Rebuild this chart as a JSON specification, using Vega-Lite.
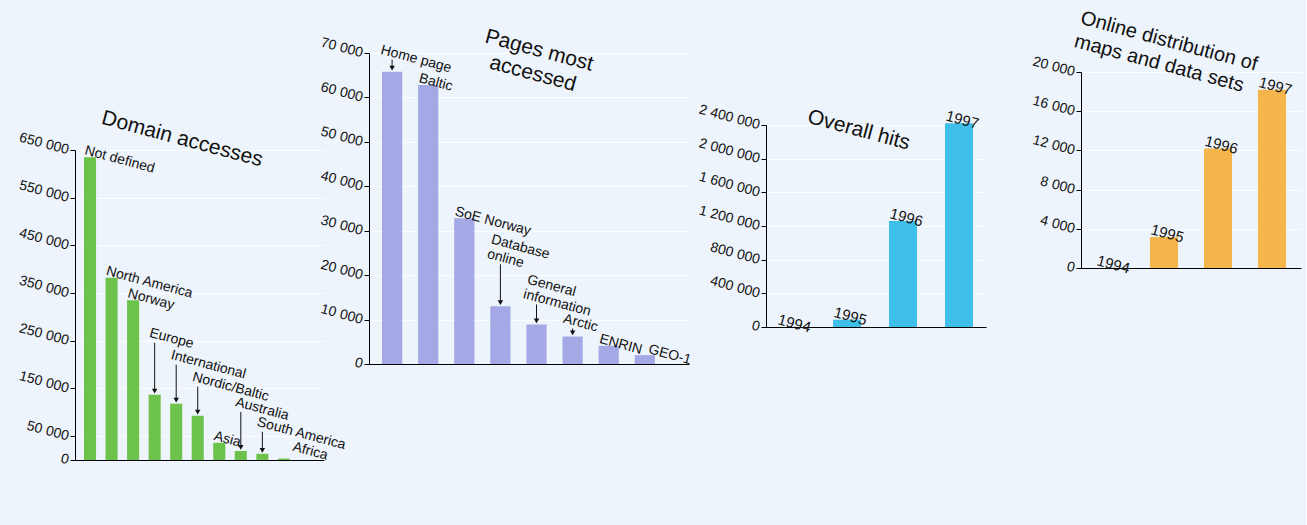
{
  "$schema": "https://vega.github.io/schema/vega-lite/v6.json",
  "background": "#eef4fb",
  "padding": {"left": 5, "top": 0, "right": 5, "bottom": 60},
  "spacing": -100,
  "config": {
    "font": "Liberation Sans",
    "view": {"stroke": null},
    "locale": {"number": {"decimal": ".", "thousands": " ", "grouping": [3], "currency": ["", ""]}},
    "axisX": {"labels": false, "ticks": false, "grid": false, "domainColor": "#000000", "domainWidth": 1, "titleColor": "transparent", "titleFontSize": 8, "titleBaseline": "top", "titleAlign": "left"},
    "axisY": {"domainColor": "#000000", "tickColor": "#000000", "tickSize": 5, "labelFontSize": 14, "labelColor": "#111111", "labelAngle": 15, "labelAlign": "right", "labelBaseline": "middle", "labelPadding": 2, "labelOverlap": false, "grid": true, "gridColor": "#ffffff", "gridOpacity": 0.8, "titleFontSize": 21, "titleFontWeight": "normal", "titleColor": "#111111", "titleAngle": 15, "titleAlign": "left", "titleBaseline": "alphabetic"}
  },
  "datasets": {
    "domains": [
      {"domain": "Not defined", "accesses": 635000},
      {"domain": "North America", "accesses": 382000},
      {"domain": "Norway", "accesses": 335000},
      {"domain": "Europe", "accesses": 137000},
      {"domain": "International", "accesses": 118000},
      {"domain": "Nordic/Baltic", "accesses": 93000},
      {"domain": "Asia", "accesses": 36000},
      {"domain": "Australia", "accesses": 19000},
      {"domain": "South America", "accesses": 13000},
      {"domain": "Africa", "accesses": 3000}
    ],
    "pages": [
      {"page": "Home page", "accesses": 65800},
      {"page": "Baltic", "accesses": 62800},
      {"page": "SoE Norway", "accesses": 32800},
      {"page": "Database online", "accesses": 13000},
      {"page": "General information", "accesses": 8900},
      {"page": "Arctic", "accesses": 6200},
      {"page": "ENRIN", "accesses": 4100},
      {"page": "GEO-1", "accesses": 2000}
    ],
    "hits": [
      {"year": "1994", "hits": 0},
      {"year": "1995", "hits": 87000},
      {"year": "1996", "hits": 1260000},
      {"year": "1997", "hits": 2420000}
    ],
    "maps": [
      {"year": "1994", "downloads": 0},
      {"year": "1995", "downloads": 3160},
      {"year": "1996", "downloads": 12200},
      {"year": "1997", "downloads": 18200}
    ],
    "blank": [{}]
  },
  "hconcat": [
    {
      "spacing": 0,
      "vconcat": [
        {"height": 106, "width": 1, "data": {"name": "blank"}, "mark": {"type": "point", "opacity": 0}, "encoding": {}},
        {
          "width": 249,
          "height": 310,
          "data": {"name": "domains"},
          "encoding": {
            "x": {"field": "domain", "type": "nominal", "sort": null,
                  "scale": {"paddingInner": 0.44, "paddingOuter": 1, "align": 0.209},
                  "axis": {"title": " ", "titleX": -70, "titleY": -300}},
            "y": {"field": "accesses", "type": "quantitative",
                  "scale": {"domain": [0, 650000], "nice": false},
                  "axis": {"values": [0, 50000, 150000, 250000, 350000, 450000, 550000, 650000], "format": ",d",
                           "title": "Domain accesses", "titleX": 25, "titleY": -27}}
          },
          "layer": [
            {"mark": {"type": "bar", "color": "#6cc24a"}},
            {"transform": [{"filter": {"field": "domain", "oneOf": ["Not defined", "North America", "Norway", "Asia"]}}],
             "mark": {"type": "text", "align": "left", "baseline": "alphabetic", "angle": 15, "fontSize": 14, "color": "#111111", "xOffset": -6, "yOffset": -3},
             "encoding": {"text": {"field": "domain", "type": "nominal"}}},
            {"transform": [{"filter": {"field": "domain", "equal": "Africa"}}],
             "mark": {"type": "text", "align": "left", "baseline": "alphabetic", "angle": 15, "fontSize": 14, "color": "#111111", "xOffset": 8, "yOffset": -8},
             "encoding": {"text": {"field": "domain", "type": "nominal"}}},
            {"transform": [{"filter": {"field": "domain", "equal": "Europe"}}],
             "layer": [
               {"mark": {"type": "text", "align": "left", "baseline": "alphabetic", "angle": 15, "fontSize": 14, "color": "#111111", "xOffset": -6, "yOffset": -58},
                "encoding": {"text": {"field": "domain", "type": "nominal"}}},
               {"mark": {"type": "rule", "color": "#111111", "strokeWidth": 1, "yOffset": -52, "y2Offset": -3},
                "encoding": {"y2": {"field": "accesses"}}}
             ]},
            {"transform": [{"filter": {"field": "domain", "oneOf": ["International", "Australia"]}}],
             "layer": [
               {"mark": {"type": "text", "align": "left", "baseline": "alphabetic", "angle": 15, "fontSize": 14, "color": "#111111", "xOffset": -6, "yOffset": -45},
                "encoding": {"text": {"field": "domain", "type": "nominal"}}},
               {"mark": {"type": "rule", "color": "#111111", "strokeWidth": 1, "yOffset": -39, "y2Offset": -3},
                "encoding": {"y2": {"field": "accesses"}}}
             ]},
            {"transform": [{"filter": {"field": "domain", "equal": "Nordic/Baltic"}}],
             "layer": [
               {"mark": {"type": "text", "align": "left", "baseline": "alphabetic", "angle": 15, "fontSize": 14, "color": "#111111", "xOffset": -6, "yOffset": -35},
                "encoding": {"text": {"field": "domain", "type": "nominal"}}},
               {"mark": {"type": "rule", "color": "#111111", "strokeWidth": 1, "yOffset": -29, "y2Offset": -3},
                "encoding": {"y2": {"field": "accesses"}}}
             ]},
            {"transform": [{"filter": {"field": "domain", "equal": "South America"}}],
             "layer": [
               {"mark": {"type": "text", "align": "left", "baseline": "alphabetic", "angle": 15, "fontSize": 14, "color": "#111111", "xOffset": -6, "yOffset": -28},
                "encoding": {"text": {"field": "domain", "type": "nominal"}}},
               {"mark": {"type": "rule", "color": "#111111", "strokeWidth": 1, "yOffset": -22, "y2Offset": -3},
                "encoding": {"y2": {"field": "accesses"}}}
             ]},
            {"transform": [{"filter": {"field": "domain", "oneOf": ["Europe", "International", "Nordic/Baltic", "Australia", "South America"]}}],
             "mark": {"type": "point", "shape": "triangle-down", "filled": true, "color": "#111111", "opacity": 1, "size": 30, "yOffset": -3.5}}
          ]
        }
      ]
    },
    {
      "spacing": 0,
      "vconcat": [
        {"height": 25, "width": 1, "data": {"name": "blank"}, "mark": {"type": "point", "opacity": 0}, "encoding": {}},
        {
          "width": 320,
          "height": 311,
          "data": {"name": "pages"},
          "encoding": {
            "x": {"field": "page", "type": "nominal", "sort": null,
                  "scale": {"paddingInner": 0.44, "paddingOuter": 0.652, "align": 0.276},
                  "axis": {"title": " ", "titleX": -121, "titleY": -300}},
            "y": {"field": "accesses", "type": "quantitative",
                  "scale": {"domain": [0, 70000], "nice": false},
                  "axis": {"values": [0, 10000, 20000, 30000, 40000, 50000, 60000, 70000], "format": ",d",
                           "title": ["Pages most", "accessed"], "titleAlign": "center", "titleLineHeight": 24, "titleX": 168, "titleY": 3}}
          },
          "layer": [
            {"mark": {"type": "bar", "color": "#a4a9e6"}},
            {"transform": [{"filter": {"field": "page", "oneOf": ["Baltic", "SoE Norway", "ENRIN"]}}],
             "mark": {"type": "text", "align": "left", "baseline": "alphabetic", "angle": 15, "fontSize": 14, "color": "#111111", "xOffset": -10, "yOffset": -3},
             "encoding": {"text": {"field": "page", "type": "nominal"}}},
            {"transform": [{"filter": {"field": "page", "equal": "GEO-1"}}],
             "mark": {"type": "text", "align": "left", "baseline": "alphabetic", "angle": 15, "fontSize": 14, "color": "#111111", "xOffset": 3, "yOffset": -2},
             "encoding": {"text": {"field": "page", "type": "nominal"}}},
            {"transform": [{"filter": {"field": "page", "equal": "Home page"}}],
             "layer": [
               {"mark": {"type": "text", "align": "left", "baseline": "alphabetic", "angle": 15, "fontSize": 14, "color": "#111111", "xOffset": -12, "yOffset": -18},
                "encoding": {"text": {"field": "page", "type": "nominal"}}},
               {"mark": {"type": "rule", "color": "#111111", "strokeWidth": 1, "yOffset": -12, "y2Offset": -3},
                "encoding": {"y2": {"field": "accesses"}}}
             ]},
            {"transform": [{"filter": {"field": "page", "equal": "Database online"}}],
             "layer": [
               {"mark": {"type": "text", "align": "left", "baseline": "alphabetic", "lineBreak": " ", "lineHeight": 15, "angle": 15, "fontSize": 14, "color": "#111111", "xOffset": -10, "yOffset": -63},
                "encoding": {"text": {"field": "page", "type": "nominal"}}},
               {"mark": {"type": "rule", "color": "#111111", "strokeWidth": 1, "yOffset": -42, "y2Offset": -3},
                "encoding": {"y2": {"field": "accesses"}}}
             ]},
            {"transform": [{"filter": {"field": "page", "equal": "General information"}}],
             "layer": [
               {"mark": {"type": "text", "align": "left", "baseline": "alphabetic", "lineBreak": " ", "lineHeight": 15, "angle": 15, "fontSize": 14, "color": "#111111", "xOffset": -10, "yOffset": -41},
                "encoding": {"text": {"field": "page", "type": "nominal"}}},
               {"mark": {"type": "rule", "color": "#111111", "strokeWidth": 1, "yOffset": -20, "y2Offset": -3},
                "encoding": {"y2": {"field": "accesses"}}}
             ]},
            {"transform": [{"filter": {"field": "page", "equal": "Arctic"}}],
             "layer": [
               {"mark": {"type": "text", "align": "left", "baseline": "alphabetic", "angle": 15, "fontSize": 14, "color": "#111111", "xOffset": -10, "yOffset": -14},
                "encoding": {"text": {"field": "page", "type": "nominal"}}},
               {"mark": {"type": "rule", "color": "#111111", "strokeWidth": 1, "yOffset": -8, "y2Offset": -3},
                "encoding": {"y2": {"field": "accesses"}}}
             ]},
            {"transform": [{"filter": {"field": "page", "oneOf": ["Home page", "Database online", "General information", "Arctic"]}}],
             "mark": {"type": "point", "shape": "triangle-down", "filled": true, "color": "#111111", "opacity": 1, "size": 30, "yOffset": -3.5}}
          ]
        }
      ]
    },
    {
      "spacing": 0,
      "vconcat": [
        {"height": 102, "width": 1, "data": {"name": "blank"}, "mark": {"type": "point", "opacity": 0}, "encoding": {}},
        {
          "width": 220,
          "height": 202,
          "data": {"name": "hits"},
          "encoding": {
            "x": {"field": "year", "type": "nominal", "sort": null,
                  "scale": {"paddingInner": 0.5, "paddingOuter": 0.214, "align": 0.458},
                  "axis": {"title": " ", "titleX": -173, "titleY": -190}},
            "y": {"field": "hits", "type": "quantitative",
                  "scale": {"domain": [0, 2400000], "nice": false},
                  "axis": {"values": [0, 400000, 800000, 1200000, 1600000, 2000000, 2400000], "format": ",d",
                           "title": "Overall hits", "titleX": 40, "titleY": -3}}
          },
          "layer": [
            {"mark": {"type": "bar", "color": "#3ebfea"}},
            {"mark": {"type": "text", "align": "left", "baseline": "alphabetic", "angle": 15, "fontSize": 15, "color": "#111111", "xOffset": -14, "yOffset": -3},
             "encoding": {"text": {"field": "year", "type": "nominal"}}}
          ]
        }
      ]
    },
    {
      "spacing": 0,
      "vconcat": [
        {"height": 7, "width": 1, "data": {"name": "blank"}, "mark": {"type": "point", "opacity": 0}, "encoding": {}},
        {
          "width": 220,
          "height": 196,
          "data": {"name": "maps"},
          "encoding": {
            "x": {"field": "year", "type": "nominal", "sort": null,
                  "scale": {"paddingInner": 0.48, "paddingOuter": 0.277, "align": 0.5},
                  "axis": {"title": " ", "titleX": -195, "titleY": -185}},
            "y": {"field": "downloads", "type": "quantitative",
                  "scale": {"domain": [0, 20000], "nice": false},
                  "axis": {"values": [0, 4000, 8000, 12000, 16000, 20000], "format": ",d",
                           "title": ["Online distribution of", "maps and data sets"], "titleFontSize": 20, "titleAngle": 10, "titleLineHeight": 24, "titleX": -2, "titleY": -49}}
          },
          "layer": [
            {"mark": {"type": "bar", "color": "#f4b54c"}},
            {"mark": {"type": "text", "align": "left", "baseline": "alphabetic", "angle": 15, "fontSize": 15, "color": "#111111", "xOffset": -14, "yOffset": -3},
             "encoding": {"text": {"field": "year", "type": "nominal"}}}
          ]
        }
      ]
    }
  ]
}
